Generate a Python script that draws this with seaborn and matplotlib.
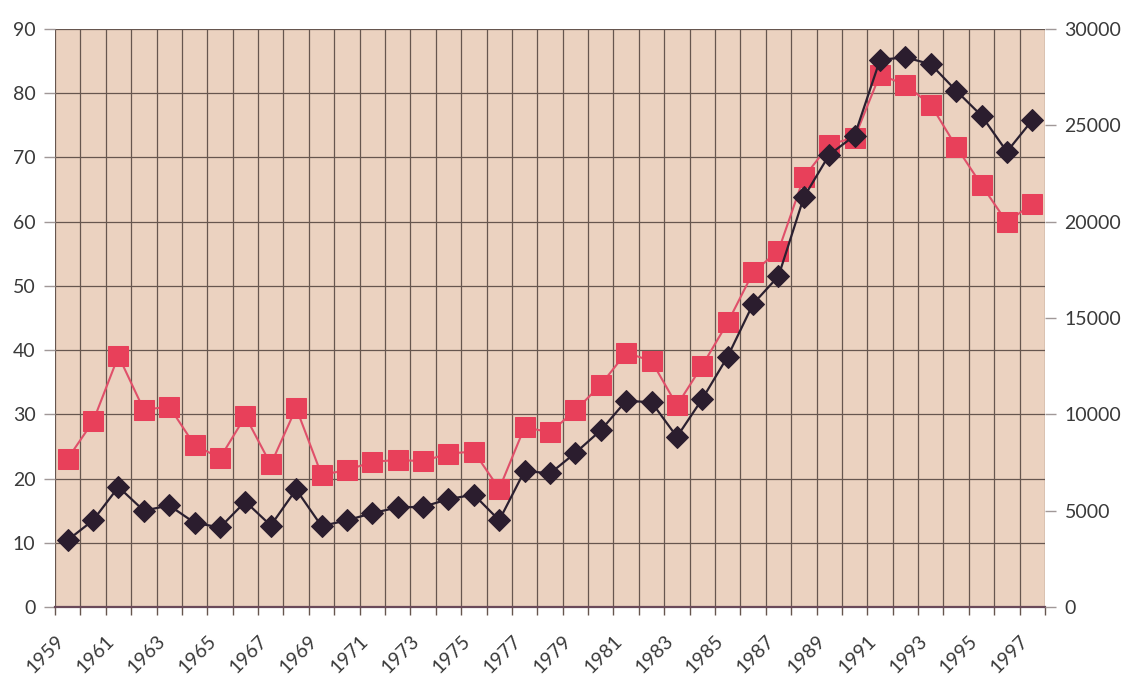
import matplotlib
matplotlib.use("Agg")
import matplotlib.pyplot as plt
import seaborn as sns
import numpy as np

years = list(range(1959, 1998))
red_values = [23.1, 28.9, 39.1, 30.7, 31.2, 25.2, 23.2, 29.7, 22.2, 31.0,
              20.6, 21.3, 22.6, 22.9, 22.7, 23.9, 24.2, 18.4, 28.0, 27.2,
              30.6, 34.6, 39.6, 38.3, 31.4, 37.6, 44.3, 52.1, 55.5, 66.9,
              72.0, 73.1, 82.9, 81.3, 78.2, 71.7, 65.7, 59.9, 62.8]
black_values = [3470, 4500, 6230, 5000, 5270, 4370, 4130, 5470, 4230, 6100,
                4200, 4500, 4870, 5170, 5200, 5600, 5830, 4500, 7070, 6930,
                8000, 9170, 10700, 10630, 8830, 10800, 13000, 15730, 17170, 21270,
                23470, 24470, 28400, 28530, 28170, 26800, 25500, 23630, 25270]
left_ticks = [0, 10, 20, 30, 40, 50, 60, 70, 80, 90]
right_ticks = [0, 5000, 10000, 15000, 20000, 25000, 30000]
label_years = list(range(1959, 1998, 2))

sns.set_style("white")
plt.rcParams['font.family'] = ['Lato', 'DejaVu Sans']

fig = plt.figure(figsize=(11.27, 6.77), dpi=100)
ax = fig.add_axes([55/1127, 1 - 607/677, (1045-55)/1127, (607-29)/677])
ax.set_facecolor('#ebd2c0')

grid_c = '#66564f'
text_c = '#3a3a3a'

sns.lineplot(x=years, y=red_values, ax=ax, color='#e0506a', linewidth=1.5,
             marker='s', markersize=14, markerfacecolor='#e8405a',
             markeredgecolor='#e8405a', zorder=3)

ax.set_xlim(1958.5, 1997.5)
ax.set_ylim(0, 90)
boundaries = [y - 0.5 for y in range(1959, 1999)]
ax.set_xticks(boundaries)
ax.set_xticklabels([str(int(b + 0.5)) if int(b + 0.5) in label_years else '' for b in boundaries],
                   rotation=45, ha='right', rotation_mode='anchor', fontsize=14, color=text_c)
ax.set_yticks(left_ticks)
ax.set_yticklabels([str(v) for v in left_ticks], fontsize=14, color=text_c)
ax.grid(True, color=grid_c, linewidth=0.9)
ax.set_axisbelow(True)
ax.tick_params(axis='x', length=6, width=1, color=grid_c, pad=12, direction='out', bottom=True)
ax.tick_params(axis='y', length=8, width=1, color='#a09898', pad=6, direction='out', left=True)
for s in ['top', 'right', 'left']:
    ax.spines[s].set_visible(False)
ax.spines['bottom'].set_color('#6a4a5a')
ax.spines['bottom'].set_linewidth(1.6)
ax.set_xlabel('')
ax.set_ylabel('')

ax2 = ax.twinx()
sns.lineplot(x=years, y=black_values, ax=ax2, color='#2b2030', linewidth=1.6,
             marker='D', markersize=11, markerfacecolor='#2b1d2e',
             markeredgecolor='#2b1d2e', zorder=4)
ax2.set_ylim(0, 30000)
ax2.set_yticks(right_ticks)
ax2.set_yticklabels([str(v) for v in right_ticks], fontsize=14, color=text_c)
ax2.tick_params(axis='y', length=8, width=1, color='#a09898', pad=6, direction='out', right=True)
for s in ['top', 'right', 'left', 'bottom']:
    ax2.spines[s].set_visible(False)
ax2.set_ylabel('')
ax2.grid(False)

fig.savefig('out.png', dpi=100, facecolor='white')
